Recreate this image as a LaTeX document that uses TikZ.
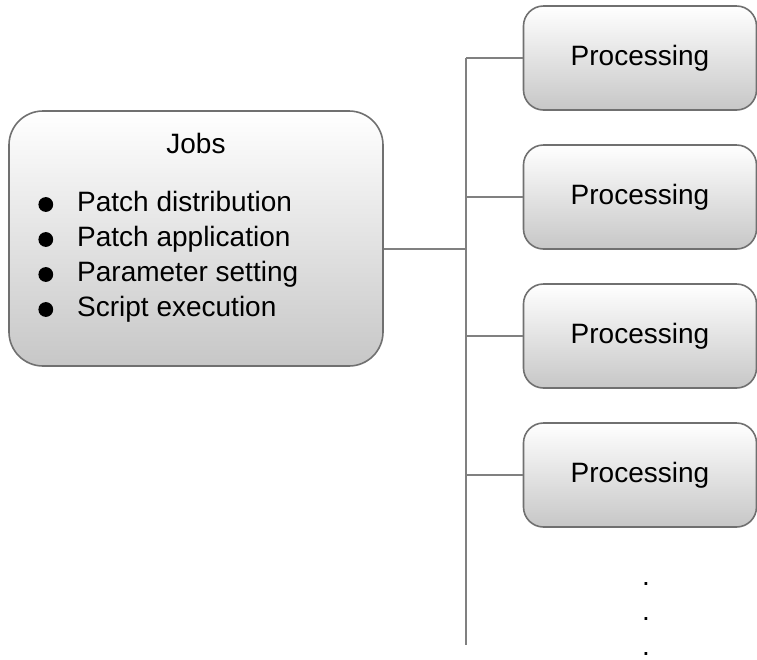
\documentclass[tikz,border=0pt]{standalone}
\usepackage{fontspec}
\setmainfont{Liberation Sans}
\usepackage{xcolor}
\usetikzlibrary{positioning}

\definecolor{boxline}{HTML}{707070}
\definecolor{wireline}{HTML}{808080}

\begin{document}
\begin{tikzpicture}[
        x=0.5pt, y=-0.5pt,
        node distance=16.7pt,
        font=\fontsize{14}{17.5}\selectfont,
        jobbox/.style={rectangle, rounded corners=17pt, draw=boxline, line width=0.8pt, minimum width=187pt, minimum height=127.5pt, top color=white, bottom color=black!22},
        procbox/.style={rectangle, rounded corners=10pt, draw=boxline, line width=0.8pt, minimum width=116.5pt, minimum height=52pt, top color=white, bottom color=black!22},
        wire/.style={draw=wireline, line width=1pt}
    ]
    \useasboundingbox (0,0) rectangle (757,660);

    % Nodes
    \node[jobbox] (jobs) at (196,238.5) {};
    \node (title) at (196,143) {Jobs};
    \node[anchor=north west, inner sep=0pt] (tasks) at (38,187) {%
        \begin{tabular}{@{}c@{\hspace{12pt}}l@{}}
        \tikz[baseline=-3.7pt]\fill (0,0) circle (3.7pt); & Patch distribution \\
        \tikz[baseline=-3.7pt]\fill (0,0) circle (3.7pt); & Patch application \\
        \tikz[baseline=-3.7pt]\fill (0,0) circle (3.7pt); & Parameter setting \\
        \tikz[baseline=-3.7pt]\fill (0,0) circle (3.7pt); & Script execution
        \end{tabular}};

    \node[procbox] (proc1) at (640,58) {Processing};
    \node[procbox, below=of proc1] (proc2) {Processing};
    \node[procbox, below=of proc2] (proc3) {Processing};
    \node[procbox, below=of proc3] (proc4) {Processing};

    % Trailing dots
    \foreach \i/\y in {1/585, 2/620, 3/655}
        \node[inner sep=0pt, anchor=base] (dot\i) at (646,\y) {.};

    % Trunk
    \coordinate (hub) at (466,249);
    \coordinate (trunktop) at (466,58);
    \coordinate (trunkend) at (466,645);
    \draw[wire] (trunktop) -- (trunkend);
    \draw[wire] (jobs.east |- hub) -- (hub);

    % Branches
    \foreach \p in {proc1, proc2, proc3, proc4}
        \draw[wire] (\p.west) -- (trunktop |- \p.west);

\end{tikzpicture}
\end{document}
